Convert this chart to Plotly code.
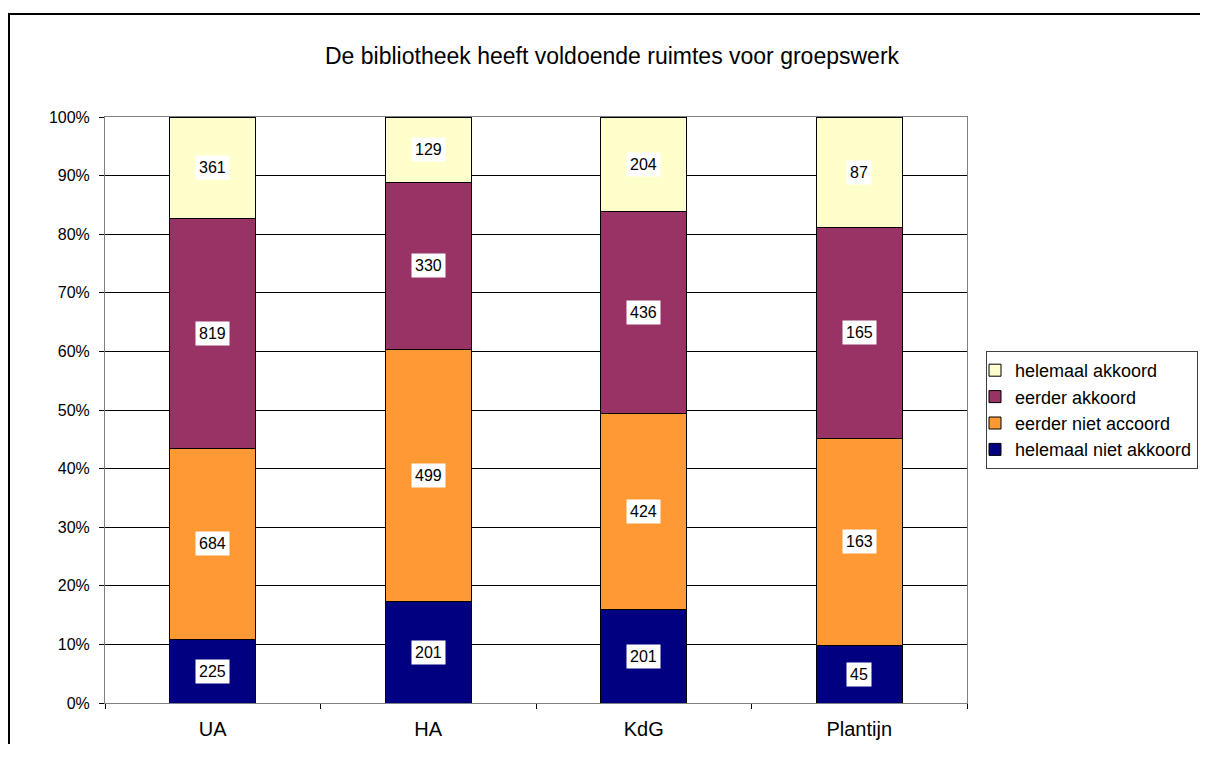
import plotly.graph_objects as go

categories = ["UA", "HA", "KdG", "Plantijn"]
series_names = ["helemaal niet akkoord", "eerder niet accoord", "eerder akkoord", "helemaal akkoord"]
helemaal_niet_akkoord = [225, 201, 201, 45]
eerder_niet_accoord = [684, 499, 424, 163]
eerder_akkoord = [819, 330, 436, 165]
helemaal_akkoord = [361, 129, 204, 87]
series_values = [helemaal_niet_akkoord, eerder_niet_accoord, eerder_akkoord, helemaal_akkoord]
colors = ["#000080", "#FF9933", "#993366", "#FFFFCC"]
y_tick_vals = [0, 10, 20, 30, 40, 50, 60, 70, 80, 90, 100]
y_tick_text = [f"{v}%" for v in y_tick_vals]
title_text = "De bibliotheek heeft voldoende ruimtes voor groepswerk"

FONT = "Liberation Sans, Arial, sans-serif"

# the page body has an 8px margin: design in screen pixels, shifted by OFF
OFF = 8
W, H = 1208 - 2 * OFF, 736
L, R, T, B = 105 - OFF, 967 - OFF, 117 - OFF, 703 - OFF
pw, ph = R - L, B - T

def px_x(sx):
    return (sx - OFF - L) / pw

def px_y(sy):
    return (B - (sy - OFF)) / ph

fig = go.Figure()
for name, vals, col in zip(series_names, series_values, colors):
    fig.add_trace(go.Bar(
        x=categories, y=vals, name=name,
        marker=dict(color=col, line=dict(color="#000000", width=1)),
        hoverinfo="x+y+name",
    ))

# data labels centred in each segment
annotations = []
totals = [sum(s[i] for s in series_values) for i in range(len(categories))]
for i, cat in enumerate(categories):
    cum = 0
    for vals in series_values:
        v = vals[i]
        mid = (cum + v / 2) / totals[i] * 100
        cum += v
        annotations.append(dict(
            x=cat, y=mid, xref="x", yref="y", text=str(v), showarrow=False,
            font=dict(family=FONT, size=16, color="#000000"),
            bgcolor="#FFFFFF", borderpad=3,
        ))

annotations.append(dict(
    text=title_text, xref="paper", yref="paper",
    x=px_x(612.5), y=px_y(56), xanchor="center", yanchor="middle",
    showarrow=False, font=dict(family=FONT, size=23, color="#000000"),
))

# open outer chart border (left and top edges only, rest runs off the page)
border_path = "M {:.5f},{:.5f} L {:.5f},{:.5f} L {:.5f},{:.5f}".format(
    px_x(9), px_y(746), px_x(9), px_y(14), px_x(1210), px_y(14))

fig.update_layout(
    width=W, height=H,
    margin=dict(l=L, r=W - R, t=T, b=H - B, autoexpand=False),
    paper_bgcolor="#FFFFFF", plot_bgcolor="#FFFFFF",
    barmode="stack", barnorm="percent", bargap=0.6,
    font=dict(family=FONT, size=16, color="#000000"),
    showlegend=True,
    legend=dict(
        x=px_x(986), y=px_y(351), xanchor="left", yanchor="top",
        traceorder="reversed", bgcolor="#FFFFFF",
        bordercolor="#404040", borderwidth=1,
        font=dict(family=FONT, size=18, color="#000000"),
        tracegroupgap=0, indentation=-12,
    ),
    xaxis=dict(
        type="category", showgrid=False, showline=True, linecolor="#808080",
        linewidth=1, mirror=True, ticks="outside", tickson="boundaries",
        ticklen=5, tickcolor="#000000",
        tickfont=dict(family=FONT, size=20, color="#000000"),
        ticklabelstandoff=8,
    ),
    yaxis=dict(
        range=[0, 100], tickvals=y_tick_vals, ticktext=y_tick_text,
        showgrid=True, gridcolor="#000000", gridwidth=1,
        zeroline=False, showline=True, linecolor="#808080", linewidth=1,
        mirror=True, ticks="outside", ticklen=5, tickcolor="#000000",
        tickfont=dict(family=FONT, size=16, color="#000000"),
        ticklabelstandoff=6,
    ),
    annotations=annotations,
    shapes=[
        dict(type="path", xref="paper", yref="paper", path=border_path,
             line=dict(color="#000000", width=2), fillcolor="rgba(0,0,0,0)",
             layer="above"),
    ],
)

fig.write_html("out.html")
